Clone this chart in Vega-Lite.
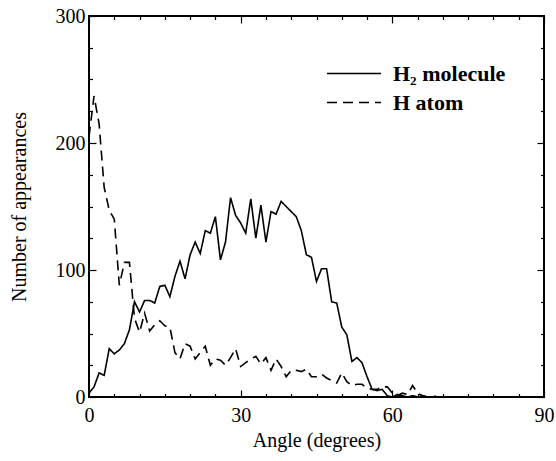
{
  "$schema": "https://vega.github.io/schema/vega-lite/v6.json",
  "width": 455,
  "height": 381,
  "autosize": {"type": "none"},
  "padding": {"left": 89, "top": 16, "right": 12, "bottom": 64},
  "background": "white",
  "config": {
    "view": {"stroke": "black", "strokeWidth": 2},
    "font": "Liberation Serif",
    "axis": {"domain": false, "grid": false, "tickColor": "black", "tickWidth": 1.2, "labelFlush": false, "labelFont": "Liberation Serif", "labelFontSize": 20, "labelColor": "black", "titleFont": "Liberation Serif", "titleFontSize": 20, "titleFontWeight": "normal", "titleColor": "black"}
  },
  "data": {"values": [
    {"angle":0,"n":3,"series":"H₂ molecule"},{"angle":1,"n":8,"series":"H₂ molecule"},{"angle":2,"n":19,"series":"H₂ molecule"},{"angle":3,"n":17,"series":"H₂ molecule"},{"angle":4,"n":38,"series":"H₂ molecule"},{"angle":5,"n":34,"series":"H₂ molecule"},{"angle":6,"n":37,"series":"H₂ molecule"},{"angle":7,"n":42,"series":"H₂ molecule"},{"angle":8,"n":53,"series":"H₂ molecule"},{"angle":9,"n":75,"series":"H₂ molecule"},{"angle":10,"n":67,"series":"H₂ molecule"},{"angle":11,"n":76,"series":"H₂ molecule"},{"angle":12,"n":76,"series":"H₂ molecule"},{"angle":13,"n":74,"series":"H₂ molecule"},{"angle":14,"n":87,"series":"H₂ molecule"},{"angle":15,"n":88,"series":"H₂ molecule"},{"angle":16,"n":79,"series":"H₂ molecule"},{"angle":17,"n":95,"series":"H₂ molecule"},{"angle":18,"n":107,"series":"H₂ molecule"},{"angle":19,"n":93,"series":"H₂ molecule"},{"angle":20,"n":112,"series":"H₂ molecule"},{"angle":21,"n":122,"series":"H₂ molecule"},{"angle":22,"n":113,"series":"H₂ molecule"},{"angle":23,"n":131,"series":"H₂ molecule"},{"angle":24,"n":129,"series":"H₂ molecule"},{"angle":25,"n":142,"series":"H₂ molecule"},{"angle":26,"n":108,"series":"H₂ molecule"},{"angle":27,"n":122,"series":"H₂ molecule"},{"angle":28,"n":157,"series":"H₂ molecule"},{"angle":29,"n":143,"series":"H₂ molecule"},{"angle":30,"n":137,"series":"H₂ molecule"},{"angle":31,"n":129,"series":"H₂ molecule"},{"angle":32,"n":156,"series":"H₂ molecule"},{"angle":33,"n":125,"series":"H₂ molecule"},{"angle":34,"n":151,"series":"H₂ molecule"},{"angle":35,"n":122,"series":"H₂ molecule"},{"angle":36,"n":146,"series":"H₂ molecule"},{"angle":37,"n":144,"series":"H₂ molecule"},{"angle":38,"n":154,"series":"H₂ molecule"},{"angle":39,"n":150,"series":"H₂ molecule"},{"angle":40,"n":146,"series":"H₂ molecule"},{"angle":41,"n":142,"series":"H₂ molecule"},{"angle":42,"n":131,"series":"H₂ molecule"},{"angle":43,"n":112,"series":"H₂ molecule"},{"angle":44,"n":110,"series":"H₂ molecule"},{"angle":45,"n":91,"series":"H₂ molecule"},{"angle":46,"n":101,"series":"H₂ molecule"},{"angle":47,"n":101,"series":"H₂ molecule"},{"angle":48,"n":75,"series":"H₂ molecule"},{"angle":49,"n":74,"series":"H₂ molecule"},{"angle":50,"n":55,"series":"H₂ molecule"},{"angle":51,"n":49,"series":"H₂ molecule"},{"angle":52,"n":28,"series":"H₂ molecule"},{"angle":53,"n":31,"series":"H₂ molecule"},{"angle":54,"n":27,"series":"H₂ molecule"},{"angle":55,"n":16,"series":"H₂ molecule"},{"angle":56,"n":6,"series":"H₂ molecule"},{"angle":57,"n":5,"series":"H₂ molecule"},{"angle":58,"n":6,"series":"H₂ molecule"},{"angle":59,"n":1,"series":"H₂ molecule"},{"angle":60,"n":0,"series":"H₂ molecule"},{"angle":61,"n":2,"series":"H₂ molecule"},{"angle":62,"n":1,"series":"H₂ molecule"},{"angle":63,"n":0,"series":"H₂ molecule"},{"angle":64,"n":1,"series":"H₂ molecule"},{"angle":65,"n":0,"series":"H₂ molecule"},{"angle":66,"n":1,"series":"H₂ molecule"},{"angle":67,"n":0,"series":"H₂ molecule"},{"angle":70,"n":0,"series":"H₂ molecule"},{"angle":75,"n":0,"series":"H₂ molecule"},{"angle":80,"n":0,"series":"H₂ molecule"},{"angle":85,"n":0,"series":"H₂ molecule"},{"angle":90,"n":0,"series":"H₂ molecule"},
    {"angle":0,"n":205,"series":"H atom"},{"angle":1,"n":237,"series":"H atom"},{"angle":2,"n":215,"series":"H atom"},{"angle":3,"n":165,"series":"H atom"},{"angle":4,"n":147,"series":"H atom"},{"angle":5,"n":140,"series":"H atom"},{"angle":6,"n":88,"series":"H atom"},{"angle":7,"n":106,"series":"H atom"},{"angle":8,"n":106,"series":"H atom"},{"angle":9,"n":62,"series":"H atom"},{"angle":10,"n":51,"series":"H atom"},{"angle":11,"n":66,"series":"H atom"},{"angle":12,"n":52,"series":"H atom"},{"angle":13,"n":57,"series":"H atom"},{"angle":14,"n":60,"series":"H atom"},{"angle":15,"n":56,"series":"H atom"},{"angle":16,"n":55,"series":"H atom"},{"angle":17,"n":35,"series":"H atom"},{"angle":18,"n":30,"series":"H atom"},{"angle":19,"n":42,"series":"H atom"},{"angle":20,"n":40,"series":"H atom"},{"angle":21,"n":30,"series":"H atom"},{"angle":22,"n":35,"series":"H atom"},{"angle":23,"n":40,"series":"H atom"},{"angle":24,"n":25,"series":"H atom"},{"angle":25,"n":30,"series":"H atom"},{"angle":26,"n":29,"series":"H atom"},{"angle":27,"n":25,"series":"H atom"},{"angle":28,"n":31,"series":"H atom"},{"angle":29,"n":38,"series":"H atom"},{"angle":30,"n":24,"series":"H atom"},{"angle":31,"n":27,"series":"H atom"},{"angle":32,"n":30,"series":"H atom"},{"angle":33,"n":32,"series":"H atom"},{"angle":34,"n":26,"series":"H atom"},{"angle":35,"n":31,"series":"H atom"},{"angle":36,"n":21,"series":"H atom"},{"angle":37,"n":30,"series":"H atom"},{"angle":38,"n":24,"series":"H atom"},{"angle":39,"n":16,"series":"H atom"},{"angle":40,"n":21,"series":"H atom"},{"angle":41,"n":21,"series":"H atom"},{"angle":42,"n":20,"series":"H atom"},{"angle":43,"n":22,"series":"H atom"},{"angle":44,"n":16,"series":"H atom"},{"angle":45,"n":16,"series":"H atom"},{"angle":46,"n":18,"series":"H atom"},{"angle":47,"n":15,"series":"H atom"},{"angle":48,"n":13,"series":"H atom"},{"angle":49,"n":11,"series":"H atom"},{"angle":50,"n":19,"series":"H atom"},{"angle":51,"n":12,"series":"H atom"},{"angle":52,"n":9,"series":"H atom"},{"angle":53,"n":10,"series":"H atom"},{"angle":54,"n":10,"series":"H atom"},{"angle":55,"n":7,"series":"H atom"},{"angle":56,"n":6,"series":"H atom"},{"angle":57,"n":6,"series":"H atom"},{"angle":58,"n":8,"series":"H atom"},{"angle":59,"n":8,"series":"H atom"},{"angle":60,"n":3,"series":"H atom"},{"angle":61,"n":1,"series":"H atom"},{"angle":62,"n":3,"series":"H atom"},{"angle":63,"n":2,"series":"H atom"},{"angle":64,"n":9,"series":"H atom"},{"angle":65,"n":3,"series":"H atom"},{"angle":66,"n":1,"series":"H atom"},{"angle":67,"n":0,"series":"H atom"},{"angle":68,"n":1,"series":"H atom"},{"angle":69,"n":0,"series":"H atom"},{"angle":70,"n":0,"series":"H atom"},{"angle":75,"n":0,"series":"H atom"},{"angle":80,"n":0,"series":"H atom"},{"angle":85,"n":0,"series":"H atom"},{"angle":90,"n":0,"series":"H atom"}
  ]},
  "layer": [
    {
      "mark": {"type": "line", "color": "black", "strokeWidth": 1.6, "clip": true},
      "encoding": {
        "x": {"field": "angle", "type": "quantitative", "scale": {"domain": [0, 90], "nice": false}, "axis": {"orient": "bottom", "values": [0, 30, 60, 90], "tickSize": -7, "labelPadding": 15, "title": "Angle (degrees)", "titlePadding": 5}},
        "y": {"field": "n", "type": "quantitative", "scale": {"domain": [0, 300], "nice": false}, "axis": {"orient": "left", "values": [0, 100, 200, 300], "tickSize": -7, "labelPadding": 11, "title": "Number of appearances", "titlePadding": 26}},
        "strokeDash": {"field": "series", "type": "nominal", "scale": {"domain": ["H₂ molecule", "H atom"], "range": [[1, 0], [10, 6]]},
          "legend": {"title": null, "orient": "none", "legendX": 237, "legendY": 44, "symbolType": "stroke", "symbolSize": 2916, "symbolStrokeColor": "black", "symbolStrokeWidth": 1.6, "clipHeight": 27, "labelFont": "Liberation Serif", "labelFontSize": 22, "labelFontWeight": "bold", "labelColor": "black", "labelOffset": 11}}
      }
    },
    {
      "mark": {"type": "point", "opacity": 0},
      "encoding": {
        "x": {"field": "angle", "type": "quantitative", "axis": {"orient": "bottom", "values": [5,10,15,20,25,35,40,45,50,55,65,70,75,80,85], "tickSize": -3.5, "labels": false, "title": null}},
        "y": {"field": "n", "type": "quantitative", "axis": {"orient": "left", "values": [25,50,75,125,150,175,225,250,275], "tickSize": -3.5, "labels": false, "title": null}}
      }
    },
    {
      "mark": {"type": "point", "opacity": 0},
      "encoding": {
        "x": {"field": "angle", "type": "quantitative", "axis": {"orient": "top", "values": [0, 30, 60, 90], "tickSize": -7, "labels": false, "title": null}},
        "y": {"field": "n", "type": "quantitative", "axis": {"orient": "right", "values": [0, 100, 200, 300], "tickSize": -7, "labels": false, "title": null}}
      }
    },
    {
      "mark": {"type": "point", "opacity": 0},
      "encoding": {
        "x": {"field": "angle", "type": "quantitative", "axis": {"orient": "top", "values": [5,10,15,20,25,35,40,45,50,55,65,70,75,80,85], "tickSize": -3.5, "labels": false, "title": null}},
        "y": {"field": "n", "type": "quantitative", "axis": {"orient": "right", "values": [25,50,75,125,150,175,225,250,275], "tickSize": -3.5, "labels": false, "title": null}}
      }
    }
  ],
  "resolve": {"axis": {"x": "independent", "y": "independent"}}
}
